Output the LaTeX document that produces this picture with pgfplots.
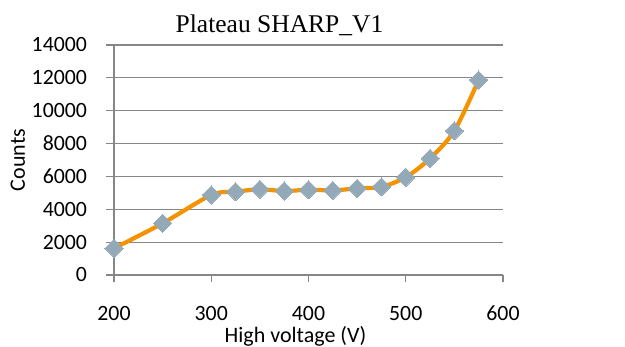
\documentclass[border=0pt]{standalone}
\usepackage{pgfplots}
\pgfplotsset{compat=1.18}
\usepackage{fontspec}
\setmainfont{Carlito}
\newfontfamily\titlefont{Liberation Serif}
\definecolor{lineor}{RGB}{245,146,0}
\definecolor{markc}{RGB}{147,169,183}
\definecolor{gridc}{RGB}{134,134,134}
\begin{document}
\begin{tikzpicture}[x=1pt,y=1pt]
\begin{axis}[
  at={(114pt,72pt)}, anchor=south west,
  scale only axis, width=389pt, height=230pt,
  xmin=200, xmax=600, ymin=0, ymax=14000,
  xtick={200,300,400,500,600},
  ytick={0,2000,4000,6000,8000,10000,12000,14000},
  axis x line*=bottom, axis y line*=left,
  axis line style={gridc, line width=1.2pt, -},
  ymajorgrids, grid style={gridc, line width=1.2pt},
  tick align=outside, major tick length=7.5pt,
  tick style={gridc, line width=1.2pt},
  /pgf/number format/assume math mode=true,
  /pgf/number format/1000 sep={},
  scaled y ticks=false,
  ticklabel style={font=\fontsize{21.8}{24}\selectfont, text=black},
  yticklabel style={anchor=east, xshift=-16pt},
  xticklabel style={anchor=north, yshift=-20pt},
  xlabel={High voltage (V)},
  ylabel={Counts},
  label style={font=\fontsize{22}{24}\selectfont},
  xlabel style={at={(rel axis cs:0.5,0)}, anchor=base, yshift=-67.7pt, xshift=-13pt},
  ylabel style={at={(rel axis cs:0,0.5)}, anchor=base, yshift=89pt},
  clip=false,
]
\addplot[lineor, line width=4.2pt, smooth, tension=0.5,
  mark=square*, mark size=6.4pt,
  mark options={fill=markc, draw=markc, rotate=45, line width=0pt}]
coordinates {
(200,1625) (250,3146) (300,4870) (325,5070) (350,5215) (375,5110)
(400,5190) (425,5150) (450,5270) (475,5370) (500,5950) (525,7100)
(550,8780) (575,11870)
};
\end{axis}
\node[anchor=base, font=\titlefont\fontsize{25.5}{28}\selectfont] at (279.5pt,314pt) {Plateau SHARP\_V1};
\pgfresetboundingbox
\useasboundingbox (0,0) rectangle (625pt,347pt);
\end{tikzpicture}
\end{document}
